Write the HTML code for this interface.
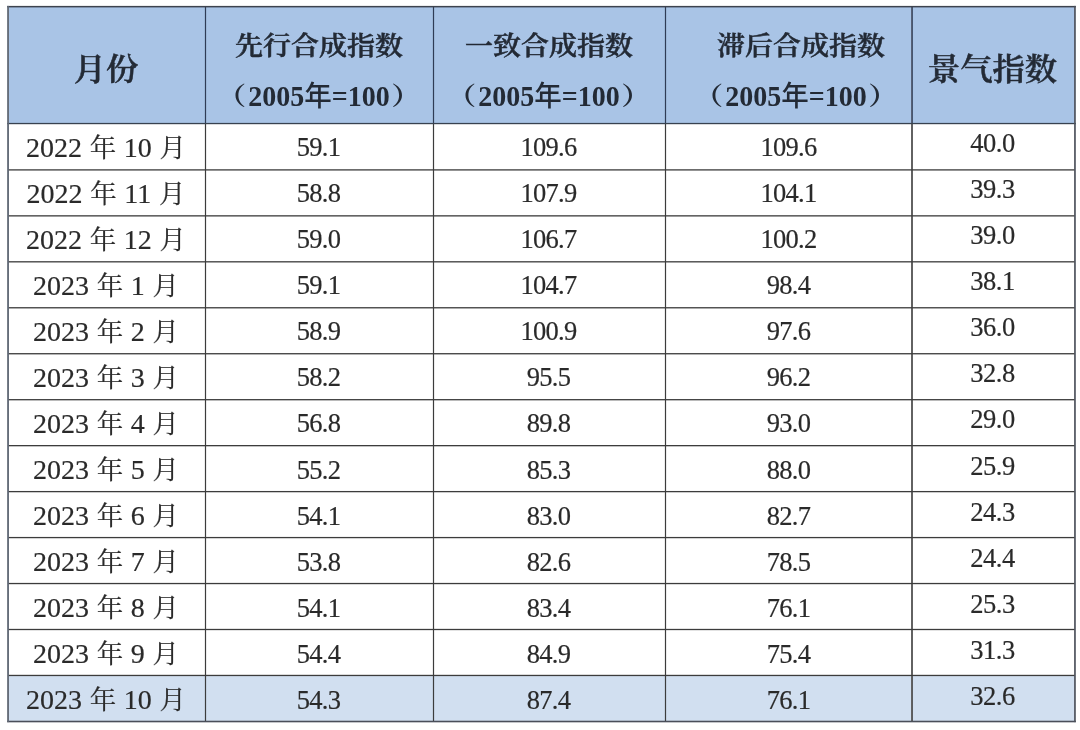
<!DOCTYPE html>
<html lang="zh-CN">
<head>
<meta charset="utf-8">
<title>合成指数与景气指数</title>
<style>
html,body{margin:0;padding:0;background:#fff;}
body{width:1080px;height:730px;position:relative;overflow:hidden;
  font-family:"Liberation Serif","Noto Serif CJK SC",serif;color:#2a2a2a;}
table{position:absolute;left:8px;top:6px;border-collapse:collapse;table-layout:fixed;width:1067px;}
col.c1{width:197px}col.c2{width:228px}col.c3{width:232px}col.c4{width:246px}col.c5{width:164px}
th,td{border:1px solid transparent;padding:0;text-align:center;vertical-align:top;overflow:hidden;white-space:nowrap;}
th{background:#a9c4e6;height:116px;font-weight:bold;color:#232a35;}
td{height:45px;font-size:27px;line-height:45px;-webkit-text-stroke:0.2px #2a2a2a;}
tr.hl td{background:#d1dff0;}
th span,td span{display:block;position:relative;}
td span{height:45px;line-height:45px;}
th.big span{font-size:32px;line-height:116px;top:5px;left:-1px;transform:scale(1.01,0.95);font-weight:600;-webkit-text-stroke:0.5px #232a35;}
th.two span{font-size:28px;}
th.two span.l1{line-height:50px;top:14px;left:-0.5px;transform:scale(1,0.95);font-weight:600;-webkit-text-stroke:0.5px #232a35;}
th.two span.l2{line-height:50px;top:12px;left:-1px;transform:scale(1,1.04);}
th.two i{font-style:normal;font-weight:bold;font-size:24px;position:relative;top:-1px;display:inline-block;transform:scaleX(1.25);}
th.two i.lp{margin-left:-8px;margin-right:4px;transform:translateX(-0.7px) scaleX(1.25);}
th.two i.rp{margin-right:-8px;margin-left:3px;transform:translateX(1.2px) scaleX(1.25);}
th.two b{font-weight:500;font-family:"Noto Sans CJK SC",sans-serif;font-size:27.5px;margin:0;}
td.d1 span{font-size:28px;top:1px;left:-1px;word-spacing:0.6px;}
td.d1 b{font-weight:normal;font-size:26.5px;}
td.d2 span,td.d3 span,td.d4 span{top:1px;left:-1px;font-size:26.5px;letter-spacing:-0.7px;}
td.d4 span{left:0;}
td.d5 span{top:-3px;left:-1px;font-size:26.5px;letter-spacing:-0.5px;}
th.c4h span.l1{left:12.5px;}
th.c4h span.l2{left:7px;}
tbody tr:nth-child(n+8) td span{top:2px;}
tbody tr:nth-child(n+8) td.d1 span{top:1px;}
tbody tr:nth-child(n+8) td.d5 span{top:-2px;}
svg.grid{position:absolute;left:0;top:0;pointer-events:none;}

</style>
</head>
<body>
<table>
<colgroup><col class="c1"><col class="c2"><col class="c3"><col class="c4"><col class="c5"></colgroup>
<thead>
<tr>
<th class="big"><span>月份</span></th>
<th class="two"><span class="l1">先行合成指数</span><span class="l2"><i class="lp">（</i>2005<b>年</b>=100<i class="rp">）</i></span></th>
<th class="two"><span class="l1">一致合成指数</span><span class="l2"><i class="lp">（</i>2005<b>年</b>=100<i class="rp">）</i></span></th>
<th class="two c4h"><span class="l1">滞后合成指数</span><span class="l2"><i class="lp">（</i>2005<b>年</b>=100<i class="rp">）</i></span></th>
<th class="big"><span>景气指数</span></th>
</tr>
</thead>
<tbody>
<tr>
<td class="d1"><span>2022 <b>年</b> 10 <b>月</b></span></td>
<td class="d2"><span>59.1</span></td>
<td class="d3"><span>109.6</span></td>
<td class="d4"><span>109.6</span></td>
<td class="d5"><span>40.0</span></td>
</tr>
<tr>
<td class="d1"><span>2022 <b>年</b> 11 <b>月</b></span></td>
<td class="d2"><span>58.8</span></td>
<td class="d3"><span>107.9</span></td>
<td class="d4"><span>104.1</span></td>
<td class="d5"><span>39.3</span></td>
</tr>
<tr>
<td class="d1"><span>2022 <b>年</b> 12 <b>月</b></span></td>
<td class="d2"><span>59.0</span></td>
<td class="d3"><span>106.7</span></td>
<td class="d4"><span>100.2</span></td>
<td class="d5"><span>39.0</span></td>
</tr>
<tr>
<td class="d1"><span>2023 <b>年</b> 1 <b>月</b></span></td>
<td class="d2"><span>59.1</span></td>
<td class="d3"><span>104.7</span></td>
<td class="d4"><span>98.4</span></td>
<td class="d5"><span>38.1</span></td>
</tr>
<tr>
<td class="d1"><span>2023 <b>年</b> 2 <b>月</b></span></td>
<td class="d2"><span>58.9</span></td>
<td class="d3"><span>100.9</span></td>
<td class="d4"><span>97.6</span></td>
<td class="d5"><span>36.0</span></td>
</tr>
<tr>
<td class="d1"><span>2023 <b>年</b> 3 <b>月</b></span></td>
<td class="d2"><span>58.2</span></td>
<td class="d3"><span>95.5</span></td>
<td class="d4"><span>96.2</span></td>
<td class="d5"><span>32.8</span></td>
</tr>
<tr>
<td class="d1"><span>2023 <b>年</b> 4 <b>月</b></span></td>
<td class="d2"><span>56.8</span></td>
<td class="d3"><span>89.8</span></td>
<td class="d4"><span>93.0</span></td>
<td class="d5"><span>29.0</span></td>
</tr>
<tr>
<td class="d1"><span>2023 <b>年</b> 5 <b>月</b></span></td>
<td class="d2"><span>55.2</span></td>
<td class="d3"><span>85.3</span></td>
<td class="d4"><span>88.0</span></td>
<td class="d5"><span>25.9</span></td>
</tr>
<tr>
<td class="d1"><span>2023 <b>年</b> 6 <b>月</b></span></td>
<td class="d2"><span>54.1</span></td>
<td class="d3"><span>83.0</span></td>
<td class="d4"><span>82.7</span></td>
<td class="d5"><span>24.3</span></td>
</tr>
<tr>
<td class="d1"><span>2023 <b>年</b> 7 <b>月</b></span></td>
<td class="d2"><span>53.8</span></td>
<td class="d3"><span>82.6</span></td>
<td class="d4"><span>78.5</span></td>
<td class="d5"><span>24.4</span></td>
</tr>
<tr>
<td class="d1"><span>2023 <b>年</b> 8 <b>月</b></span></td>
<td class="d2"><span>54.1</span></td>
<td class="d3"><span>83.4</span></td>
<td class="d4"><span>76.1</span></td>
<td class="d5"><span>25.3</span></td>
</tr>
<tr>
<td class="d1"><span>2023 <b>年</b> 9 <b>月</b></span></td>
<td class="d2"><span>54.4</span></td>
<td class="d3"><span>84.9</span></td>
<td class="d4"><span>75.4</span></td>
<td class="d5"><span>31.3</span></td>
</tr>
<tr class="hl">
<td class="d1"><span>2023 <b>年</b> 10 <b>月</b></span></td>
<td class="d2"><span>54.3</span></td>
<td class="d3"><span>87.4</span></td>
<td class="d4"><span>76.1</span></td>
<td class="d5"><span>32.6</span></td>
</tr>
</tbody>
</table>
<svg class="grid" width="1080" height="730" viewBox="0 0 1080 730" aria-hidden="true">
<rect x="8.05" y="169.25" width="1066.90" height="1.30" fill="#3c3c3c"/>
<rect x="8.05" y="215.21" width="1066.90" height="1.30" fill="#3c3c3c"/>
<rect x="8.05" y="261.17" width="1066.90" height="1.30" fill="#3c3c3c"/>
<rect x="8.05" y="307.13" width="1066.90" height="1.30" fill="#3c3c3c"/>
<rect x="8.05" y="353.09" width="1066.90" height="1.30" fill="#3c3c3c"/>
<rect x="8.05" y="399.05" width="1066.90" height="1.30" fill="#3c3c3c"/>
<rect x="8.05" y="445.01" width="1066.90" height="1.30" fill="#3c3c3c"/>
<rect x="8.05" y="490.97" width="1066.90" height="1.30" fill="#3c3c3c"/>
<rect x="8.05" y="536.93" width="1066.90" height="1.30" fill="#3c3c3c"/>
<rect x="8.05" y="582.89" width="1066.90" height="1.30" fill="#3c3c3c"/>
<rect x="8.05" y="628.85" width="1066.90" height="1.30" fill="#3c3c3c"/>
<rect x="8.05" y="674.81" width="1066.90" height="1.30" fill="#3c3c3c"/>
<rect x="204.90" y="123.55" width="1.20" height="597.87" fill="#3c3c3c"/>
<rect x="204.90" y="6.65" width="1.20" height="116.90" fill="#2f3b55"/>
<rect x="432.90" y="123.55" width="1.20" height="597.87" fill="#3c3c3c"/>
<rect x="432.90" y="6.65" width="1.20" height="116.90" fill="#2f3b55"/>
<rect x="664.90" y="123.55" width="1.20" height="597.87" fill="#3c3c3c"/>
<rect x="664.90" y="6.65" width="1.20" height="116.90" fill="#2f3b55"/>
<rect x="911.20" y="123.55" width="1.60" height="597.87" fill="#3c3c3c"/>
<rect x="911.20" y="6.65" width="1.60" height="116.90" fill="#2f3b55"/>
<rect x="7.15" y="122.90" width="1068.70" height="1.30" fill="#38424f"/>
<rect x="7.15" y="5.90" width="1068.70" height="1.50" fill="#3d434e"/>
<rect x="7.15" y="720.72" width="1068.70" height="1.60" fill="#4a4f5a"/>
<rect x="7.15" y="5.90" width="1.80" height="716.22" fill="#5f6774"/>
<rect x="1074.10" y="5.90" width="1.70" height="716.22" fill="#4e535d"/>
</svg>
</body>
</html>
